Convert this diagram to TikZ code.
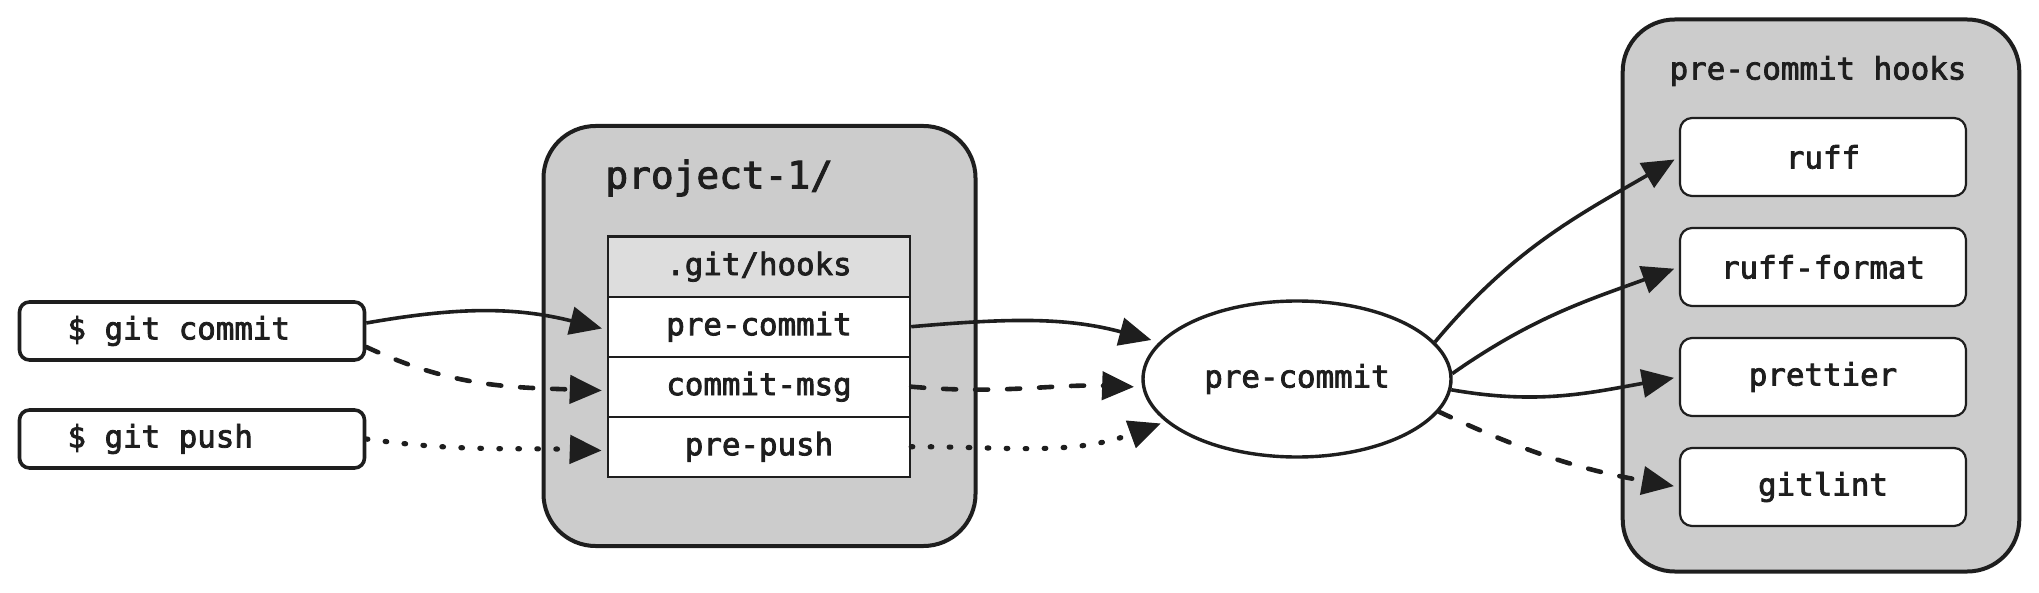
\documentclass[tikz,border=0pt]{standalone}
\usepackage{fontspec}
\setmonofont{DejaVu Sans Mono}
\newfontfamily\heavymono{DejaVu Sans Mono}[FakeBold=2.6]
\usetikzlibrary{arrows.meta,shapes.geometric}
\definecolor{ink}{HTML}{1E1E1E}
\definecolor{grp}{HTML}{CCCCCC}
\definecolor{hdr}{HTML}{DDDDDD}
\begin{document}
\begin{tikzpicture}[x=0.5pt,y=-0.5pt,
  every node/.style={font=\heavymono\fontsize{15.4}{18}\selectfont, text=ink},
  container/.style={draw=ink, line width=2pt, fill=grp, rounded corners=26pt, inner sep=0pt},
  cmdbox/.style={draw=ink, line width=1.8pt, fill=white, rounded corners=5pt,
     minimum width=172.5pt, minimum height=29pt, inner xsep=24pt},
  cell/.style={draw=ink, line width=1.2pt, fill=white, minimum width=151pt, minimum height=30pt, inner sep=0pt},
  hookbox/.style={draw=ink, line width=1.1pt, fill=white, rounded corners=6pt, minimum width=143pt, minimum height=39pt, inner sep=0pt},
  conn/.style={draw=ink, line width=1.8pt, -{Triangle[length=16pt,width=14pt]}, shorten >=2.5pt},
  dashline/.style={line width=2.3pt, line cap=round, dash pattern=on 6.5pt off 9.5pt},
  dotline/.style={line width=2.6pt, line cap=round, dash pattern=on 0.8pt off 8.7pt}
]
\useasboundingbox (0,0) rectangle (2039,593);

% containers
\node[container, minimum width=216pt, minimum height=210pt] (proj) at (759.5,336) {};
\node[anchor=west, font=\heavymono\fontsize{18.9}{22}\selectfont, inner sep=0pt] (projlbl) at (605,178) {project-1/};
\node[container, minimum width=198.3pt, minimum height=276pt] (hooks) at (1821,295.5) {};
\node[inner sep=0pt] (hookslbl) at (1818,71) {pre-commit hooks};

% commands
\node[cmdbox] (gc) at (192,331) {\makebox[124.5pt][l]{\$ git commit}};
\node[cmdbox] (gp) at (192,439) {\makebox[124.5pt][l]{\$ git push}};

% table
\node[cell, fill=hdr] (gh) at (759,266.7) {.git/hooks};
\node[cell] (pc) at (759,326.7) {pre-commit};
\node[cell] (cm) at (759,386.7) {commit-msg};
\node[cell] (pp) at (759,446.7) {pre-push};

% ellipse
\node[draw=ink, line width=1.7pt, fill=white, ellipse, minimum width=154pt, minimum height=78pt, inner sep=0pt] (ell) at (1297,379) {pre-commit};

% hook boxes
\node[hookbox] (ruff) at (1823,157) {ruff};
\node[hookbox] (rf) at (1823,267) {ruff-format};
\node[hookbox] (pr) at (1823,377) {prettier};
\node[hookbox] (gl) at (1823,487) {gitlint};

% connectors left
\draw[conn] ([yshift=4pt]gc.east) to[out=10,in=166] ([yshift=-1.5pt]pc.west);
\draw[conn, dashline] ([yshift=-8pt]gc.east) to[out=-25,in=178] ([yshift=-2pt]cm.west);
\draw[conn, dotline] (gp.east) to[out=-8,in=178] ([yshift=-2pt]pp.west);

% connectors middle
\draw[conn, shorten >=4pt] (pc.east) to[out=5,in=165] (ell.165);
\draw[conn, dashline, shorten >=4pt] (cm.east) to[out=-5,in=178] (ell.183);
\draw[conn, dotline] (pp.east) to[out=0,in=200] (ell.198);

% connectors right
\draw[conn] (ell.15) to[out=50,in=210] (ruff.west);
\draw[conn] (ell.2) to[out=35,in=200] (rf.west);
\draw[conn] (ell.-4) to[out=-10,in=190] (pr.west);
\draw[conn, dashline] (ell.-13) to[out=-25,in=170] (gl.west);
\end{tikzpicture}
\end{document}
